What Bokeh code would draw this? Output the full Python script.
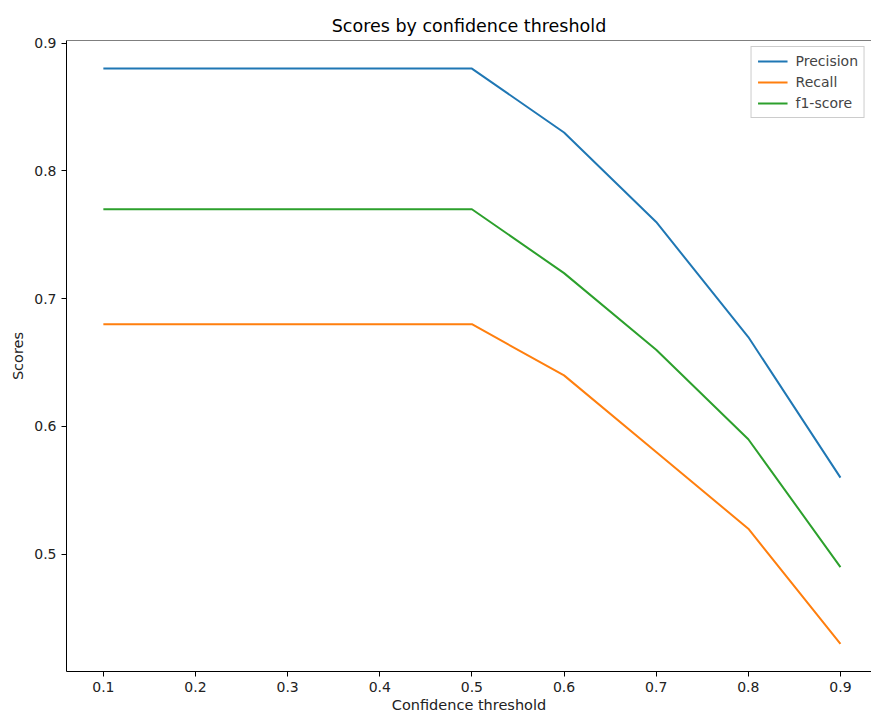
from bokeh.plotting import figure
from bokeh.models import FixedTicker, Range1d, Span, Legend, LegendItem
from bokeh.embed import file_html
from bokeh.resources import INLINE

thresholds = [0.1, 0.2, 0.3, 0.4, 0.5, 0.6, 0.7, 0.8, 0.9]
precision = [0.88, 0.88, 0.88, 0.88, 0.88, 0.83, 0.76, 0.67, 0.56]
recall = [0.68, 0.68, 0.68, 0.68, 0.68, 0.64, 0.58, 0.52, 0.43]
f1 = [0.77, 0.77, 0.77, 0.77, 0.77, 0.72, 0.66, 0.59, 0.49]
x_ticks = [0.1, 0.2, 0.3, 0.4, 0.5, 0.6, 0.7, 0.8, 0.9]
y_ticks = [0.5, 0.6, 0.7, 0.8, 0.9]

FONT = "DejaVu Sans"
y_top = 0.902
p = figure(width=871, height=715, output_backend="svg", toolbar_location=None,
           x_range=Range1d(0.06, 0.9337), y_range=Range1d(0.4083, y_top),
           min_border_left=66, min_border_right=0, min_border_top=40, min_border_bottom=44)
p.title.text = "Scores by confidence threshold"
p.title.align = "center"
p.title.text_font = FONT
p.title.text_font_size = "17.5px"
p.title.text_font_style = "normal"
p.title.text_color = "black"
p.title.standoff = 10

p.outline_line_color = None
p.grid.visible = False
p.add_layout(Span(location=y_top, dimension="width", line_color="black", line_width=1))

for ax in (p.xaxis[0], p.yaxis[0]):
    ax.major_tick_out = 5
    ax.major_tick_in = 0
    ax.minor_tick_line_color = None
    ax.axis_line_color = "black"
    ax.major_tick_line_color = "black"
    ax.major_label_text_font = FONT
    ax.major_label_text_font_size = "14px"
    ax.major_label_text_color = "#222222"
    ax.axis_label_text_font = FONT
    ax.axis_label_text_font_size = "14.5px"
    ax.axis_label_text_font_style = "normal"
    ax.axis_label_text_color = "#222222"

p.xaxis.major_label_standoff = 5
p.xaxis.axis_label_standoff = 2
p.yaxis.major_label_standoff = 5
p.yaxis.axis_label_standoff = 5

p.xaxis.ticker = FixedTicker(ticks=x_ticks)
p.yaxis.ticker = FixedTicker(ticks=y_ticks)
p.xaxis.axis_label = "Confidence threshold"
p.yaxis.axis_label = "Scores"

r1 = p.line(thresholds, precision, line_color="#1f77b4", line_width=2)
r2 = p.line(thresholds, recall, line_color="#ff7f0e", line_width=2)
r3 = p.line(thresholds, f1, line_color="#2ca02c", line_width=2)

legend = Legend(items=[LegendItem(label="Precision", renderers=[r1]),
                       LegendItem(label="Recall", renderers=[r2]),
                       LegendItem(label="f1-score", renderers=[r3])],
                location="top_right")
legend.label_text_font = FONT
legend.label_text_font_size = "14px"
legend.label_height = 16
legend.glyph_height = 16
legend.glyph_width = 30
legend.spacing = 5
legend.padding = 6
legend.margin = 6
legend.label_standoff = 8
legend.border_line_color = "#cccccc"
legend.border_line_alpha = 1
legend.background_fill_alpha = 0.8
p.add_layout(legend)

open("out.html", "w").write(file_html(p, INLINE))
